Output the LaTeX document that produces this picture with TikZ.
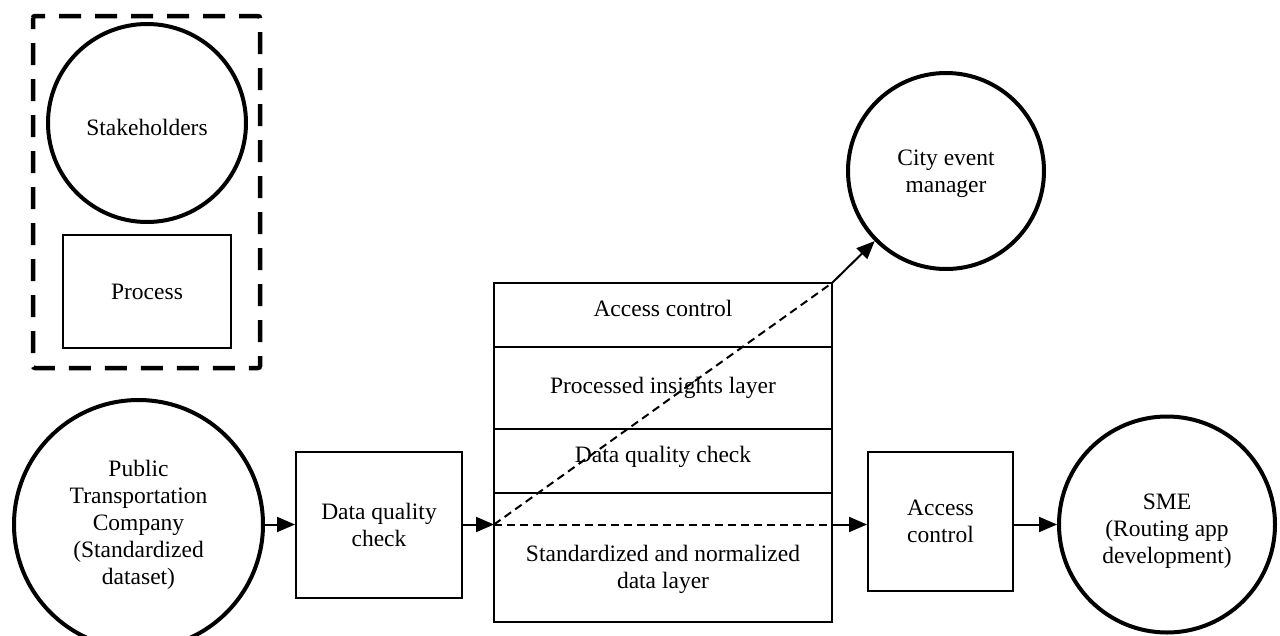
\documentclass[tikz,border=0pt]{standalone}
\usepackage{fontspec}
\setmainfont{Liberation Serif}
\usepackage{tikz}
\usetikzlibrary{arrows.meta,%
                positioning}

\begin{document}
\begin{tikzpicture}[x=1pt, y=-1pt]
  \tikzstyle{every node} = [font = \fontsize{23.5}{27}\selectfont,
                            align = center,
                            inner sep = 0]
\tikzset{RoleStyle/.style={draw, circle, line width=4pt},
         StepStyle/.style={draw, rectangle, line width=2pt},
         LayerStyle/.style={draw, rectangle, line width=2.5pt,
                            minimum width=338pt, outer sep=0pt},
         EdgeStyle/.style={-{Triangle[length=18pt,width=15pt]}, line width=2pt},
         FlowStyle/.style={line width=2pt, dash pattern=on 8pt off 5pt},
         LegendStyle/.style={line width=4.5pt, dash pattern=on 22pt off 14pt,
                             dash phase=11pt, rounded corners=2pt}}
\useasboundingbox (0,0) rectangle (1280,635);

\node[RoleStyle, minimum size=198pt] (SH) at (147,123) {\rule{0pt}{26pt}Stakeholders};
\node[StepStyle, minimum width=168pt, minimum height=113pt,
      below=10pt of SH] (PR) {Process};
\draw[LegendStyle] (33,16) rectangle (260,368);

\node[RoleStyle, minimum size=249pt] (PTC) at (138.5,524.5)
     {Public\\Transportation\\Company\\(Standardized\\dataset)};
\node[StepStyle, minimum width=166pt, minimum height=146pt,
      right=30pt of PTC] (DQ) {Data quality\\check};

\node[LayerStyle, minimum height=64pt] (L1) at (663,315)
     {Access control\rule[-14pt]{0pt}{0pt}};
\node[LayerStyle, minimum height=82pt, below=0pt of L1] (L2) {Processed insights layer};
\node[LayerStyle, minimum height=64pt, below=0pt of L2] (L3)
     {Data quality check\rule[-13pt]{0pt}{0pt}};
\node[LayerStyle, minimum height=129pt, below=0pt of L3] (L4)
     {\rule{0pt}{40pt}Standardized and normalized\\data layer};
\coordinate (sIn) at (DQ.east -| L4.west);
\coordinate (sOut) at (DQ.east -| L4.east);

\node[StepStyle, minimum width=145pt, minimum height=139pt,
      right=35pt of sOut, yshift=3pt] (AC) {Access\\control};
\coordinate (acIn) at (AC.west |- sOut);
\coordinate (acOut) at (AC.east |- sOut);
\node[RoleStyle, minimum size=216pt, right=43pt of acOut] (SME)
     {\rule{0pt}{28pt}SME\\(Routing app\\development)};
\node[RoleStyle, minimum size=196pt] (CEM) at (946,171)
     {\rule{0pt}{22pt}City event\\manager};

\draw[EdgeStyle] (PTC) -- (DQ);
\draw[EdgeStyle] (DQ) -- (sIn);
\draw[FlowStyle] (sIn) -- (sOut);
\draw[EdgeStyle] (sOut) -- (acIn);
\draw[EdgeStyle] (acOut) -- (SME);
\draw[FlowStyle] (sIn) -- (L1.north east);
\draw[EdgeStyle] (L1.north east) -- (CEM);

\end{tikzpicture}
\end{document}
